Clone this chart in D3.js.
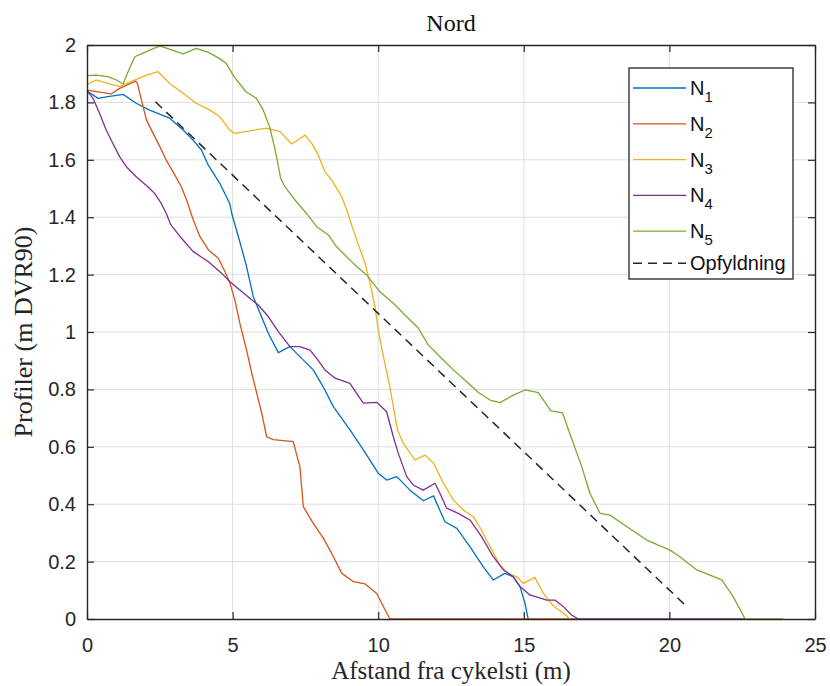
<!DOCTYPE html>
<html>
<head>
<meta charset="utf-8">
<script src="https://cdn.jsdelivr.net/npm/d3@7"></script>
<style>
body{margin:0;background:#fff}
</style>
</head>
<body>
<div class="mainView"></div>
<script>
// profiles: [afstand (m), kote (m DVR90)]
const N1 = [[0,1.84],[0.38,1.814],[0.72,1.82],[1.24,1.828],[1.69,1.797],[2.15,1.773],[2.84,1.745],[3.3,1.704],[3.64,1.669],[3.93,1.634],[4.16,1.582],[4.56,1.518],[4.9,1.448],[4.97,1.413],[5.2,1.332],[5.48,1.228],[5.71,1.123],[6.23,0.995],[6.57,0.928],[6.97,0.949],[7.37,0.908],[7.77,0.868],[8.11,0.809],[8.46,0.74],[9.03,0.659],[9.49,0.589],[10.0,0.508],[10.29,0.484],[10.64,0.496],[11.09,0.449],[11.55,0.412],[11.9,0.429],[12.29,0.339],[12.7,0.316],[13.15,0.252],[13.61,0.182],[13.95,0.136],[14.35,0.159],[14.64,0.147],[14.87,0.113],[15.04,0.055],[15.15,0]]
const N2 = [[0,1.843],[0.55,1.834],[0.84,1.83],[1.12,1.849],[1.41,1.862],[1.67,1.874],[1.73,1.866],[1.87,1.808],[2.04,1.739],[2.27,1.692],[2.5,1.646],[2.72,1.599],[2.95,1.559],[3.24,1.506],[3.42,1.46],[3.65,1.39],[3.88,1.332],[4.17,1.286],[4.51,1.257],[4.74,1.21],[4.91,1.17],[5.08,1.111],[5.25,1.03],[5.48,0.937],[5.66,0.856],[5.83,0.786],[6.0,0.717],[6.17,0.635],[6.4,0.625],[7.08,0.618],[7.31,0.531],[7.43,0.391],[7.77,0.333],[8.12,0.281],[8.4,0.229],[8.75,0.159],[9.15,0.13],[9.55,0.122],[9.95,0.089],[10.12,0.055],[10.4,0],[16.9,0]]
const N3 = [[0,1.862],[0.32,1.878],[0.72,1.866],[1.12,1.855],[1.41,1.868],[2.04,1.895],[2.44,1.907],[2.84,1.866],[3.3,1.832],[3.75,1.797],[4.21,1.774],[4.56,1.75],[4.9,1.704],[5.07,1.692],[5.59,1.701],[6.16,1.71],[6.63,1.698],[7.03,1.655],[7.26,1.671],[7.49,1.686],[7.72,1.657],[7.94,1.617],[8.17,1.559],[8.4,1.53],[8.75,1.471],[8.92,1.425],[9.09,1.373],[9.26,1.321],[9.55,1.239],[9.72,1.17],[9.89,1.088],[10.0,1.007],[10.18,0.914],[10.4,0.809],[10.52,0.74],[10.66,0.659],[10.86,0.612],[11.26,0.554],[11.61,0.571],[11.9,0.543],[12.24,0.473],[12.58,0.415],[12.92,0.38],[13.27,0.356],[13.55,0.31],[13.84,0.252],[14.18,0.188],[14.47,0.159],[14.76,0.147],[14.98,0.124],[15.38,0.145],[15.67,0.089],[16.01,0.046],[16.36,0.02],[16.59,0]]
const N4 = [[0,1.84],[0.21,1.814],[0.43,1.762],[0.66,1.704],[0.89,1.657],[1.12,1.611],[1.35,1.576],[1.69,1.541],[2.09,1.506],[2.32,1.483],[2.55,1.448],[2.72,1.414],[2.87,1.375],[3.2,1.332],[3.65,1.28],[4.17,1.245],[4.62,1.205],[4.91,1.175],[5.25,1.146],[5.6,1.117],[5.88,1.094],[6.23,1.053],[6.57,1.001],[6.97,0.949],[7.31,0.949],[7.66,0.937],[7.89,0.908],[8.17,0.868],[8.52,0.839],[9.03,0.821],[9.26,0.786],[9.49,0.752],[9.95,0.755],[10.29,0.722],[10.52,0.635],[10.69,0.577],[10.98,0.496],[11.2,0.467],[11.55,0.449],[11.95,0.473],[12.12,0.438],[12.35,0.386],[12.75,0.368],[13.15,0.345],[13.55,0.287],[13.95,0.217],[14.3,0.171],[14.64,0.147],[14.87,0.113],[15.21,0.084],[15.79,0.066],[16.07,0.066],[16.36,0.043],[16.64,0.014],[16.87,0],[22.6,0]]
const N5 = [[0,1.893],[0.32,1.895],[0.72,1.89],[1.01,1.878],[1.24,1.864],[1.41,1.907],[1.64,1.959],[2.04,1.977],[2.5,1.997],[2.9,1.983],[3.3,1.969],[3.75,1.988],[4.15,1.975],[4.5,1.956],[4.78,1.936],[5.05,1.89],[5.45,1.838],[5.82,1.814],[6.05,1.774],[6.28,1.712],[6.47,1.63],[6.65,1.536],[6.8,1.506],[7.14,1.46],[7.54,1.413],[7.89,1.367],[8.29,1.338],[8.57,1.297],[9.15,1.239],[9.6,1.199],[10.06,1.14],[10.52,1.1],[10.98,1.053],[11.38,1.013],[11.72,0.955],[12.12,0.914],[12.58,0.868],[13.04,0.827],[13.44,0.789],[13.84,0.763],[14.18,0.754],[14.64,0.78],[15.04,0.798],[15.5,0.789],[15.93,0.725],[16.33,0.718],[16.6,0.64],[16.99,0.531],[17.27,0.438],[17.62,0.368],[17.96,0.362],[18.53,0.322],[19.22,0.275],[20.02,0.24],[20.36,0.217],[20.94,0.171],[21.8,0.136],[22.19,0.078],[22.6,0],[23.9,0]]
const opfyldning = [[2.35,1.802],[20.6,0.043]]

const profiles = [N1, N2, N3, N4, N5]
const subscripts = ["1","2","3","4","5"]
const fillLabel = "Opfyldning"
const colors = ["#0072BD","#D95319","#EDB120","#7E2F8E","#77AC30"]

const xTicks = [0,5,10,15,20,25]
const yTicks = [0,0.2,0.4,0.6,0.8,1,1.2,1.4,1.6,1.8,2]

const title = "Nord"
const xLabel = "Afstand fra cykelsti (m)"
const yLabel = "Profiler (m DVR90)"

function chartConfiguration(){
    let width = 830;
    let height = 686;
    let margin = {top: 45, bottom: 67, left: 87, right: 15}
    let bodyWidth = width - margin.left - margin.right;
    let bodyHeight = height - margin.top - margin.bottom;
    let svg = d3.select(".mainView")
        .append("svg")
        .attr("width", width)
        .attr("height", height)
        .style("display", "block")
    svg.append("rect").attr("width", width).attr("height", height).style("fill", "#fff")
    let container = svg.append("g")
        .attr("transform", "translate(" + [margin.left, margin.top] + ")")
    return {width, height, margin, bodyWidth, bodyHeight, svg, container}
}

function chartScales(config){
    let xScale = d3.scaleLinear().domain([0,25]).range([0, config.bodyWidth])
    let yScale = d3.scaleLinear().domain([0,2]).range([config.bodyHeight, 0])
    return {xScale, yScale}
}

function drawGrid(scales, config){
    let {xScale, yScale} = scales;
    let {container, bodyWidth, bodyHeight} = config;
    let g = container.append("g")
    g.selectAll(".vgrid").data(xTicks.slice(1, -1)).enter().append("line")
        .attr("x1", d => xScale(d)).attr("x2", d => xScale(d))
        .attr("y1", 0).attr("y2", bodyHeight)
        .style("stroke", "#dedede").style("stroke-width", 1)
    g.selectAll(".hgrid").data(yTicks.slice(1, -1)).enter().append("line")
        .attr("y1", d => yScale(d)).attr("y2", d => yScale(d))
        .attr("x1", 0).attr("x2", bodyWidth)
        .style("stroke", "#dedede").style("stroke-width", 1)
}

function drawLines(scales, config){
    let {xScale, yScale} = scales;
    let {container} = config;
    let line = d3.line().x(d => xScale(d[0])).y(d => yScale(d[1]))
    profiles.forEach((p, i) => {
        container.append("path")
            .attr("d", line(p))
            .style("fill", "none")
            .style("stroke", colors[i])
            .style("stroke-width", 1.3)
            .style("stroke-linejoin", "round")
    })
    container.append("path")
        .attr("d", line(opfyldning))
        .style("fill", "none")
        .style("stroke", "#262626")
        .style("stroke-width", 1.5)
        .style("stroke-dasharray", "9,6")
}

function drawAxes(scales, config){
    let {xScale, yScale} = scales;
    let {container, bodyWidth, bodyHeight} = config;
    let fmt = d => String(d)
    let style = function(g){
        g.select(".domain").style("stroke", "#262626").style("stroke-width", 1.4)
        g.selectAll(".tick line").style("stroke", "#262626").style("stroke-width", 1.2)
        g.selectAll("text").style("font-family", "'Liberation Sans', Arial, sans-serif")
            .style("font-size", "20px").style("fill", "#262626")
    }
    container.append("g")
        .attr("transform", "translate(0," + bodyHeight + ")")
        .call(d3.axisBottom(xScale).tickValues(xTicks).tickFormat(fmt).tickSize(-7).tickSizeOuter(0).tickPadding(19))
        .call(style)
    container.append("g")
        .call(d3.axisLeft(yScale).tickValues(yTicks).tickFormat(fmt).tickSize(-7).tickSizeOuter(0).tickPadding(11))
        .call(style)
    container.append("g")
        .call(d3.axisTop(xScale).tickValues(xTicks).tickFormat("").tickSize(-7).tickSizeOuter(0))
        .call(style)
    container.append("g")
        .attr("transform", "translate(" + bodyWidth + ",0)")
        .call(d3.axisRight(yScale).tickValues(yTicks).tickFormat("").tickSize(-7).tickSizeOuter(0))
        .call(style)
}

function drawLabels(config){
    let {svg, margin, bodyWidth, bodyHeight} = config;
    let cx = margin.left + bodyWidth / 2;
    let cy = margin.top + bodyHeight / 2;
    let serif = "'Liberation Serif', 'Times New Roman', serif"
    svg.append("text").attr("x", cx).attr("y", 31)
        .attr("text-anchor", "middle").text(title)
        .style("font-family", serif).style("font-size", "24px").style("fill", "#111")
    svg.append("text").attr("x", cx).attr("y", 679)
        .attr("text-anchor", "middle").text(xLabel)
        .style("font-family", serif).style("font-size", "25px").style("fill", "#262626")
    svg.append("text")
        .attr("transform", "translate(" + [32, cy] + ") rotate(-90)")
        .attr("text-anchor", "middle").text(yLabel)
        .style("font-family", serif).style("font-size", "26px").style("fill", "#262626")
}

function legend(config){
    let {svg} = config;
    let box = {x: 629, y: 68, w: 164, h: 211}
    let g = svg.append("g")
    g.append("rect")
        .attr("x", box.x).attr("y", box.y).attr("width", box.w).attr("height", box.h)
        .style("fill", "#fff").style("stroke", "#262626").style("stroke-width", 1.3)
    let entries = subscripts.map((s, i) => ({sub: s, color: colors[i], dash: null}))
    entries.push({sub: null, color: "#262626", dash: "9,6"})
    let y = 88;
    entries.forEach(e => {
        g.append("line")
            .attr("x1", 633).attr("x2", 686).attr("y1", y).attr("y2", y)
            .style("stroke", e.color)
            .style("stroke-width", e.dash ? 1.5 : 1.3)
            .style("stroke-dasharray", e.dash)
        let t = g.append("text").attr("x", 690).attr("y", y + 7)
            .style("font-family", "'Liberation Sans', Arial, sans-serif")
            .style("font-size", "20px").style("fill", "#111")
        if (e.sub) {
            t.append("tspan").text("N")
            t.append("tspan").attr("dy", 7).style("font-size", "15px").text(e.sub)
            y += 35.8;
        } else {
            t.text(fillLabel)
        }
        if (e.sub == "5") y -= 3.8;
    })
}

let config = chartConfiguration();
let scales = chartScales(config);
drawGrid(scales, config);
drawLines(scales, config);
drawAxes(scales, config);
drawLabels(config);
legend(config);
</script>
</body>
</html>
